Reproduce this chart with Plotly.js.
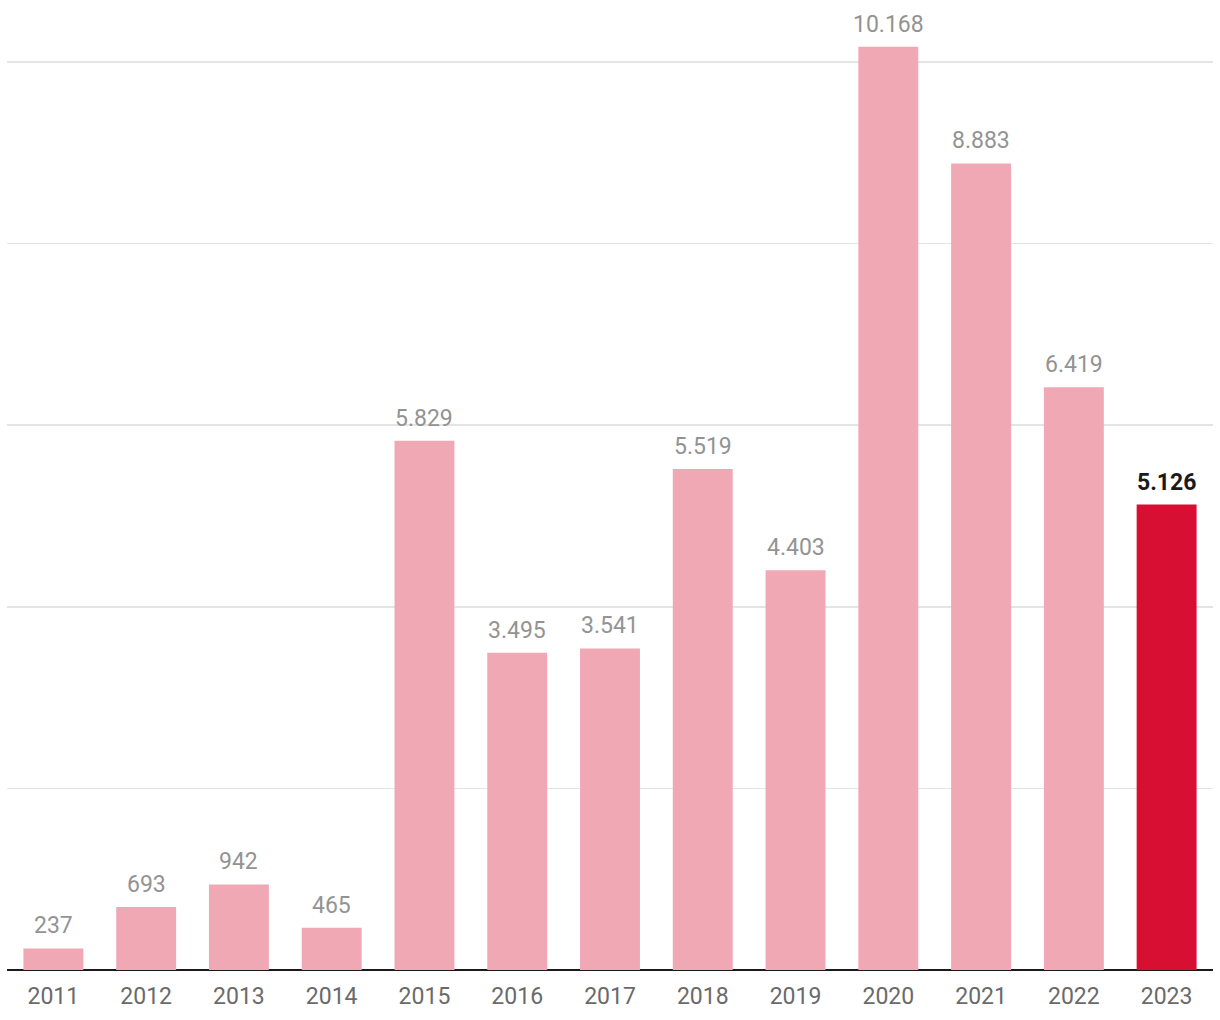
<!DOCTYPE html>
<html>
<head>
<meta charset="utf-8">
<script src="https://cdn.plot.ly/plotly-3.0.1.min.js"></script>
<style>html,body{margin:0;padding:0;background:#fff;}#chart{width:1220px;height:1020px;}</style>
</head>
<body>
<div id="chart"></div>
<script>
const years = ['2011','2012','2013','2014','2015','2016','2017','2018','2019','2020','2021','2022','2023'];
const values = [237, 693, 942, 465, 5829, 3495, 3541, 5519, 4403, 10168, 8883, 6419, 5126];
const highlightYear = '2023';

function fmt(v) { return String(v).replace(/\B(?=(\d{3})+(?!\d))/g, '.'); }

const colors = years.map(y => y === highlightYear ? '#d70f32' : '#f0a9b4');

const trace = {
  type: 'bar',
  x: years,
  y: values,
  marker: {color: colors},
  hoverinfo: 'none'
};

const annotations = years.map((y, i) => ({
  x: i, y: values[i], xref: 'x', yref: 'y',
  text: y === highlightYear ? '<b>' + fmt(values[i]) + '</b>' : fmt(values[i]),
  showarrow: false, yanchor: 'bottom', xanchor: 'center', yshift: 7,
  font: {family: 'Roboto', size: 23, color: y === highlightYear ? '#1a1a1a' : '#939393'}
}));

const layout = {
  width: 1220, height: 1020,
  margin: {l: 7, r: 7, t: 20, b: 50},
  paper_bgcolor: '#ffffff', plot_bgcolor: '#ffffff',
  bargap: 0.354,
  showlegend: false,
  font: {family: 'Roboto', color: '#6e6e6e'},
  annotations: annotations,
  xaxis: {
    type: 'category',
    range: [-0.5, years.length - 0.5],
    autorange: false,
    showgrid: false, showline: false, zeroline: false,
    ticks: '', tickfont: {family: 'Roboto', size: 23, color: '#6a6a6a'},
    ticklabelstandoff: 10
  },
  yaxis: {
    range: [0, 10463],
    dtick: 2000, tick0: 0,
    showgrid: true, gridcolor: '#e4e4e4', gridwidth: 1.5,
    zeroline: true, zerolinecolor: '#1a1a1a', zerolinewidth: 2,
    showticklabels: false, ticks: ''
  }
};

Plotly.newPlot('chart', [trace], layout, {staticPlot: true, displayModeBar: false});
</script>
</body>
</html>
